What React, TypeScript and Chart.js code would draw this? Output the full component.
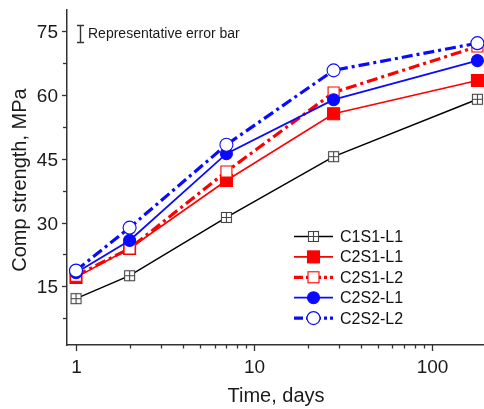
import React, { useEffect, useRef } from 'react';
import { Chart, registerables } from 'chart.js';

Chart.register(...registerables);

const days = [1, 2, 7, 28, 180];
const seriesNames = ['C1S1-L1', 'C2S1-L1', 'C2S1-L2', 'C2S2-L1', 'C2S2-L2'];
const c1s1L1 = [12.1, 17.5, 31.2, 45.5, 59.0];
const c2s1L1 = [17.1, 23.9, 39.9, 55.6, 63.4];
const c2s1L2 = [17.5, 23.9, 42.0, 60.6, 71.4];
const c2s2L1 = [18.2, 25.8, 46.2, 58.9, 68.1];
const c2s2L2 = [18.7, 28.8, 48.3, 65.8, 72.2];
const yTickValues = [7.5, 15, 22.5, 30, 37.5, 45, 52.5, 60, 67.5, 75];
const yTickLabels = [15, 30, 45, 60, 75];
const xTickValues = [1, 2, 3, 4, 5, 6, 7, 8, 9, 10, 20, 30, 40, 50, 60, 70, 80, 90, 100];
const xTickLabels = [1, 10, 100];

const FONT = "Arial, 'Liberation Sans', sans-serif";
const RED = '#ff0000';
const BLUE = '#0a0aff';
const DASHDOT = [11, 4, 3, 4];

type Style = {
  color: string;
  width: number;
  dash: number[];
  marker: 'cross' | 'square' | 'circle';
  filled: boolean;
  size: number;
};

const styles: Style[] = [
  { color: '#000000', width: 1.5, dash: [], marker: 'cross', filled: false, size: 11 },
  { color: RED, width: 1.6, dash: [], marker: 'square', filled: true, size: 12 },
  { color: RED, width: 3.2, dash: DASHDOT, marker: 'square', filled: false, size: 11 },
  { color: BLUE, width: 1.8, dash: [], marker: 'circle', filled: true, size: 12 },
  { color: BLUE, width: 3.2, dash: DASHDOT, marker: 'circle', filled: false, size: 13 },
];

function makeCrossSquare(size: number): HTMLCanvasElement {
  const c = document.createElement('canvas');
  c.width = size + 2;
  c.height = size + 2;
  const g = c.getContext('2d')!;
  g.fillStyle = '#ffffff';
  g.fillRect(1, 1, size, size);
  g.strokeStyle = '#444444';
  g.lineWidth = 1.1;
  g.strokeRect(1.5, 1.5, size - 1, size - 1);
  const m = (size + 2) / 2;
  g.beginPath();
  g.moveTo(m, 1.5);
  g.lineTo(m, size + 0.5);
  g.moveTo(1.5, m);
  g.lineTo(size + 0.5, m);
  g.stroke();
  return c;
}

function drawMarker(ctx: CanvasRenderingContext2D, s: Style, x: number, y: number, img: HTMLCanvasElement) {
  ctx.save();
  ctx.setLineDash([]);
  if (s.marker === 'cross') {
    ctx.drawImage(img, x - img.width / 2, y - img.height / 2);
  } else if (s.marker === 'square') {
    const h = s.size / 2;
    ctx.fillStyle = s.filled ? s.color : '#ffffff';
    ctx.fillRect(x - h, y - h, s.size, s.size);
    ctx.strokeStyle = s.color;
    ctx.lineWidth = 1.1;
    ctx.strokeRect(x - h, y - h, s.size, s.size);
  } else {
    ctx.beginPath();
    ctx.arc(x, y, s.size / 2, 0, Math.PI * 2);
    ctx.fillStyle = s.filled ? s.color : '#ffffff';
    ctx.fill();
    ctx.strokeStyle = s.color;
    ctx.lineWidth = 1.1;
    ctx.stroke();
  }
  ctx.restore();
}

export default function App() {
  const ref = useRef<HTMLCanvasElement>(null);

  useEffect(() => {
    const canvas = ref.current;
    if (!canvas) return;
    const crossImg = makeCrossSquare(11);
    const seriesData = [c1s1L1, c2s1L1, c2s1L2, c2s2L1, c2s2L2];

    const overlay = {
      id: 'overlay',
      afterDraw(chart: any) {
        const ctx: CanvasRenderingContext2D = chart.ctx;
        const xs = chart.scales.x;
        const ys = chart.scales.y;
        const area = chart.chartArea;
        ctx.save();
        ctx.strokeStyle = '#333333';
        ctx.lineWidth = 1.3;
        ctx.fillStyle = '#1a1a1a';
        ctx.font = `19px ${FONT}`;
        // x ticks and labels
        ctx.textAlign = 'center';
        ctx.textBaseline = 'alphabetic';
        for (const v of xTickValues) {
          const px = Math.round(xs.getPixelForValue(v)) + 0.5;
          const major = xTickLabels.includes(v);
          ctx.beginPath();
          ctx.moveTo(px, area.bottom);
          ctx.lineTo(px, area.bottom + (major ? 6 : 3.5));
          ctx.stroke();
          if (major) ctx.fillText(String(v), px, area.bottom + 28);
        }
        // y ticks and labels
        ctx.textAlign = 'right';
        ctx.textBaseline = 'middle';
        for (const v of yTickValues) {
          const py = Math.round(ys.getPixelForValue(v)) + 0.5;
          const major = yTickLabels.includes(v);
          ctx.beginPath();
          ctx.moveTo(area.left, py);
          ctx.lineTo(area.left - (major ? 5 : 4), py);
          ctx.stroke();
          if (major) ctx.fillText(String(v), area.left - 9, py + 1);
        }
        // axis titles
        ctx.font = `20px ${FONT}`;
        ctx.textAlign = 'center';
        ctx.textBaseline = 'alphabetic';
        ctx.fillText('Time, days', 276, 402);
        ctx.save();
        ctx.translate(26, 180);
        ctx.rotate(-Math.PI / 2);
        ctx.fillText('Comp strength, MPa', 0, 0);
        ctx.restore();
        // representative error bar
        ctx.strokeStyle = '#333333';
        ctx.lineWidth = 1.4;
        ctx.beginPath();
        ctx.moveTo(80.5, 25);
        ctx.lineTo(80.5, 43);
        ctx.moveTo(77, 25.5);
        ctx.lineTo(84, 25.5);
        ctx.moveTo(77, 42.5);
        ctx.lineTo(84, 42.5);
        ctx.stroke();
        ctx.font = `14px ${FONT}`;
        ctx.textAlign = 'left';
        ctx.fillStyle = '#1a1a1a';
        ctx.fillText('Representative error bar', 88, 38);
        // legend
        ctx.font = `16px ${FONT}`;
        ctx.textBaseline = 'middle';
        seriesNames.forEach((name, i) => {
          const s = styles[i];
          const y = 236.5 + i * 20.4;
          ctx.save();
          ctx.strokeStyle = s.color;
          ctx.lineWidth = s.width;
          ctx.setLineDash(s.dash.length ? [9, 3, 3, 3] : []);
          ctx.beginPath();
          ctx.moveTo(294, y);
          ctx.lineTo(333, y);
          ctx.stroke();
          ctx.restore();
          drawMarker(ctx, s, 313.5, y, crossImg);
          ctx.fillStyle = '#111111';
          ctx.fillText(name, 340, y + 1);
        });
        ctx.restore();
      },
    };

    const chart = new Chart(canvas, {
      type: 'line',
      data: {
        datasets: seriesNames.map((name, i) => {
          const s = styles[i];
          const pointStyle: any =
            s.marker === 'cross' ? crossImg : s.marker === 'square' ? 'rect' : 'circle';
          const radius = s.marker === 'square' ? s.size / Math.SQRT2 : s.size / 2;
          return {
            label: name,
            data: days.map((d, j) => ({ x: d, y: seriesData[i][j] })),
            borderColor: s.color,
            borderWidth: s.width,
            borderDash: s.dash,
            backgroundColor: s.color,
            pointStyle,
            pointRadius: radius,
            pointHoverRadius: radius,
            pointBackgroundColor: s.filled ? s.color : '#ffffff',
            pointBorderColor: s.marker === 'cross' ? '#444444' : s.color,
            pointBorderWidth: 1.1,
            tension: 0,
            clip: false,
            order: 5 - i,
          };
        }),
      },
      options: {
        responsive: false,
        animation: false,
        devicePixelRatio: 1,
        layout: { autoPadding: false, padding: { top: 10, right: 0, left: 0, bottom: 0 } },
        plugins: {
          legend: { display: false },
          tooltip: { enabled: false },
        },
        scales: {
          x: {
            type: 'logarithmic',
            min: 0.89,
            max: 196,
            afterFit: (s: any) => {
              s.height = 64;
              s.paddingLeft = 0;
              s.paddingRight = 0;
            },
            afterBuildTicks: (s: any) => {
              s.ticks = xTickValues.map((v) => ({ value: v }));
            },
            grid: { display: true, drawOnChartArea: false, drawTicks: false },
            border: { display: true, color: '#333333', width: 1.5 },
            ticks: { display: false },
          },
          y: {
            type: 'linear',
            min: 1.2,
            max: 80,
            afterFit: (s: any) => {
              s.width = 67;
              s.paddingTop = 0;
              s.paddingBottom = 0;
            },
            afterBuildTicks: (s: any) => {
              s.ticks = yTickValues.map((v) => ({ value: v }));
            },
            grid: { display: true, drawOnChartArea: false, drawTicks: false },
            border: { display: true, color: '#333333', width: 1.5 },
            ticks: { display: false },
          },
        },
      },
      plugins: [overlay],
    } as any);

    return () => chart.destroy();
  }, []);

  return (
    <div style={{ position: 'absolute', left: 0, top: 0, width: 484, height: 409, background: '#ffffff' }}>
      <canvas ref={ref} width={484} height={409} style={{ display: 'block' }} />
    </div>
  );
}
